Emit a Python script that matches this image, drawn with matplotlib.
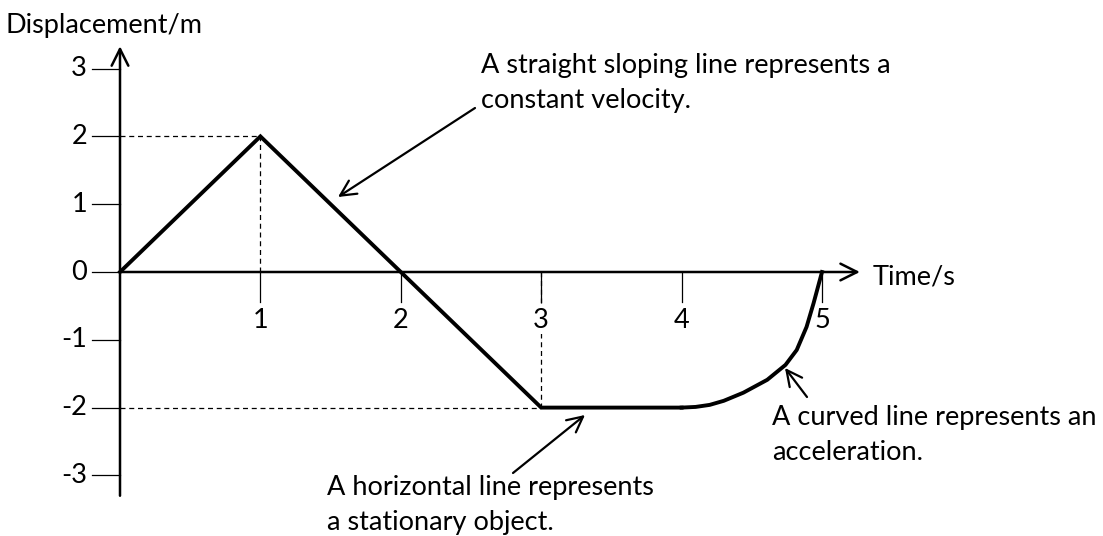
import numpy as np
import matplotlib.pyplot as plt

plt.rcParams['font.family'] = ['Lato', 'DejaVu Sans']

# motion data : time (s) and displacement (m)
t_line = [0, 1, 3, 4]
d_line = [0, 2, -2, -2]
t_curve = [4.0, 4.1, 4.2, 4.3, 4.44, 4.61, 4.74, 4.82, 4.89, 4.94, 5.0]
d_curve = [-2.0, -1.99, -1.96, -1.90, -1.78, -1.59, -1.37, -1.15, -0.81, -0.46, 0.0]

xticks = [1, 2, 3, 4, 5]
yticks = [3, 2, 1, 0, -1, -2, -3]

notes = ["A straight sloping line represents a\nconstant velocity.",
         "A horizontal line represents\na stationary object.",
         "A curved line represents an\nacceleration."]

W, H = 1103, 536
x0, sx = 120, 140.4   # pixel of t=0, px per second
y0, sy = 272, 67.8    # pixel of d=0, px per metre

def px( xp, yp ) :
    return ( (xp - x0) / sx, (y0 - yp) / sy )

fig = plt.figure( figsize=(W/100, H/100), dpi=100 )
ax = fig.add_axes( [0, 0, 1, 1] )
ax.set_xlim( -x0/sx, (W - x0)/sx )
ax.set_ylim( (y0 - H)/sy, y0/sy )
ax.axis( 'off' )

fs = 19.5

# dashed guides
dash = dict( color='black', lw=0.9, ls=(0, (4, 3)) )
ax.plot( [0, 1], [2, 2], **dash )
ax.plot( [1, 1], [0, 2], **dash )
ax.plot( [0, 3], [-2, -2], **dash )
ax.plot( [3, 3], [-2, 0], **dash )

# axes with open arrow heads
ax.annotate( '', xy=(0, 3.33), xytext=(0, -3.30),
             arrowprops=dict( arrowstyle='->', lw=1.8, color='black', mutation_scale=30,
                              shrinkA=0, shrinkB=0 ) )
ax.annotate( '', xy=(5.27, 0), xytext=(0, 0),
             arrowprops=dict( arrowstyle='->', lw=1.8, color='black', mutation_scale=30,
                              shrinkA=0, shrinkB=0 ) )

tly = 30 / sy
for t in xticks :
    ax.plot( [t, t], [0, -tly], color='black', lw=0.9 )
    ax.text( t, (272 - 328)/sy, str( t ), ha='center', va='baseline', fontsize=fs,
             bbox=dict( facecolor='white', edgecolor='none', pad=0.5 ), zorder=3 )
for d in yticks :
    ax.plot( [-28/sx, 0], [d, d], color='black', lw=0.9 )
    ax.text( -0.235, d, str( d ), ha='right', va='center', fontsize=fs )

# the graph itself
ax.plot( t_line, d_line, color='black', lw=2.8, solid_joinstyle='miter', zorder=4 )
ax.plot( t_curve, d_curve, color='black', lw=2.8, solid_joinstyle='round', zorder=4 )

ax.text( *px( 6, 33 ), "Displacement/m", ha='left', va='baseline', fontsize=fs )
ax.text( *px( 873, 284 ), "Time/s", ha='left', va='baseline', fontsize=fs )

# notes, one text per line, placed by baseline
def note( txt, xl, ybase, step=35 ) :
    for k, line in enumerate( txt.split( '\n' ) ) :
        ax.text( *px( xl, ybase + k*step ), line, ha='left', va='baseline', fontsize=fs )

arr = dict( arrowstyle='->', lw=1.6, color='black', mutation_scale=28, shrinkA=0, shrinkB=0 )
note( notes[0], 481, 73 )
ax.annotate( '', xy=px( 338, 197 ), xytext=px( 475, 108 ), arrowprops=arr )

note( notes[1], 327, 495 )
ax.annotate( '', xy=px( 585, 415 ), xytext=px( 513, 473 ), arrowprops=arr )

note( notes[2], 772, 425 )
ax.annotate( '', xy=px( 785, 368 ), xytext=px( 807, 397 ), arrowprops=arr )

fig.savefig( 'out.png', dpi=100 )
